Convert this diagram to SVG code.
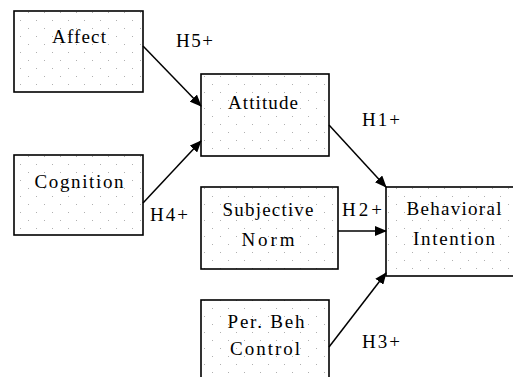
<svg xmlns="http://www.w3.org/2000/svg" width="513" height="377" viewBox="0 0 513 377">
<defs>
<pattern id="dots" x="0" y="0" width="16" height="16" patternUnits="userSpaceOnUse">
<rect x="4" y="4" width="1" height="1" fill="#b0b0b0"/>
<rect x="12" y="12" width="1" height="1" fill="#b0b0b0"/>
</pattern>
<marker id="arr" markerWidth="12" markerHeight="10" refX="11" refY="5" orient="auto" markerUnits="userSpaceOnUse">
<path d="M0,0 L12,5 L0,10 Z" fill="#000"/>
</marker>
</defs>
<style>
.box{fill:url(#dots);stroke:#000;stroke-width:1.6}
.t{font-family:"Liberation Serif","Times New Roman",serif;font-size:19px;fill:#000}
.c{text-anchor:middle}
.edge{stroke:#000;stroke-width:1.5;fill:none;marker-end:url(#arr)}
</style>
<rect width="513" height="377" fill="#fff"/>
<g id="affect"><rect class="box" x="14" y="11" width="129" height="81"/><text class="t c" x="79" y="43" textLength="54" lengthAdjust="spacing">Affect</text></g>
<g id="cognition"><rect class="box" x="14" y="155" width="129" height="80"/><text class="t c" x="79" y="188" textLength="89" lengthAdjust="spacing">Cognition</text></g>
<g id="attitude"><rect class="box" x="201" y="74" width="128" height="82"/><text class="t c" x="263" y="109" textLength="70" lengthAdjust="spacing">Attitude</text></g>
<g id="subjective-norm"><rect class="box" x="201" y="187" width="137" height="82"/><text class="t c" x="268" y="216" textLength="91" lengthAdjust="spacing">Subjective</text><text class="t c" x="268" y="246" textLength="53" lengthAdjust="spacing">Norm</text></g>
<g id="behavioral-intention"><rect class="box" x="386" y="187" width="132" height="89"/><text class="t c" x="454" y="215" textLength="95" lengthAdjust="spacing">Behavioral</text><text class="t c" x="454" y="245" textLength="82" lengthAdjust="spacing">Intention</text></g>
<g id="pbc"><rect class="box" x="201" y="300" width="128" height="85"/><text class="t c" x="266" y="328" textLength="77" lengthAdjust="spacing">Per. Beh</text><text class="t c" x="265" y="355" textLength="70" lengthAdjust="spacing">Control</text></g>
<g id="connectors">
<line class="edge" x1="143" y1="46" x2="201" y2="106"/>
<line class="edge" x1="143" y1="203" x2="201" y2="141"/>
<line class="edge" x1="329" y1="125" x2="386" y2="187"/>
<line class="edge" x1="338" y1="231" x2="386" y2="231"/>
<line class="edge" x1="329" y1="347" x2="386" y2="273"/>
<text class="t" x="176" y="47" textLength="37" lengthAdjust="spacing">H5+</text>
<text class="t" x="362" y="126" textLength="38" lengthAdjust="spacing">H1+</text>
<text class="t" x="150" y="221" textLength="38" lengthAdjust="spacing">H4+</text>
<text class="t" x="342" y="216" textLength="40" lengthAdjust="spacing">H2+</text>
<text class="t" x="362" y="348" textLength="38" lengthAdjust="spacing">H3+</text>
</g>
</svg>
